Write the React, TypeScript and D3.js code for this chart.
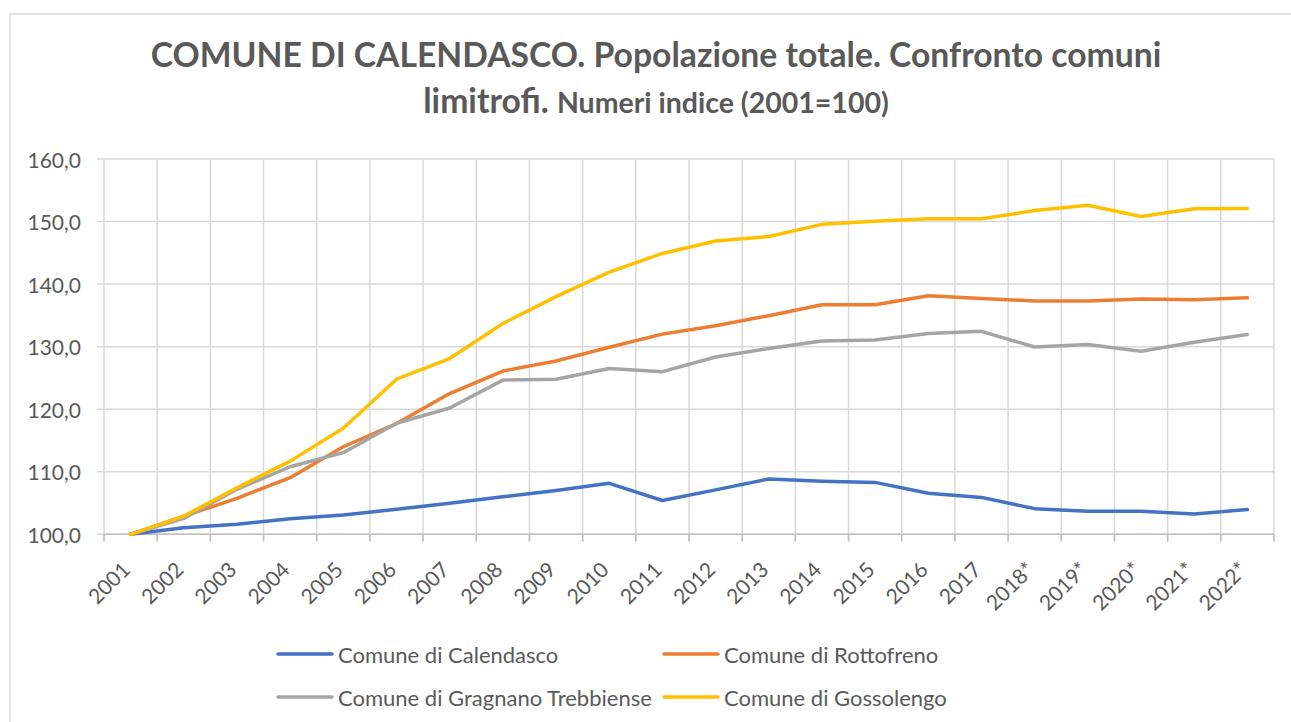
import React from "react";
import * as d3 from "d3";

const years = [
  "2001", "2002", "2003", "2004", "2005", "2006", "2007", "2008", "2009", "2010", "2011",
  "2012", "2013", "2014", "2015", "2016", "2017", "2018*", "2019*", "2020*", "2021*", "2022*",
];

const calendasco = [
  100, 101.05, 101.6, 102.5, 103.1, 104.0, 104.95, 106.0, 107.0, 108.15, 105.4,
  107.1, 108.85, 108.5, 108.3, 106.55, 105.9, 104.1, 103.7, 103.7, 103.25, 103.95,
];
const rottofreno = [
  100, 102.9, 105.75, 109.05, 114.0, 117.7, 122.5, 126.1, 127.7, 129.9, 132.0,
  133.35, 134.95, 136.7, 136.7, 138.15, 137.7, 137.3, 137.3, 137.6, 137.5, 137.8,
];
const gragnano = [
  100, 102.55, 107.2, 110.8, 113.05, 117.75, 120.2, 124.65, 124.8, 126.5, 126.0,
  128.35, 129.7, 130.9, 131.05, 132.1, 132.45, 129.95, 130.35, 129.25, 130.7, 131.95,
];
const gossolengo = [
  100, 102.9, 107.45, 111.7, 116.95, 124.8, 128.1, 133.7, 138.0, 141.9, 144.9,
  146.9, 147.6, 149.55, 150.05, 150.45, 150.45, 151.75, 152.6, 150.8, 152.05, 152.1,
];

const seriesNames = [
  "Comune di Calendasco",
  "Comune di Rottofreno",
  "Comune di Gragnano Trebbiense",
  "Comune di Gossolengo",
];
const seriesColors = ["#4472C4", "#ED7D31", "#A5A5A5", "#FFC000"];
const seriesValues = [calendasco, rottofreno, gragnano, gossolengo];

const FONT = "Lato, 'Open Sans', sans-serif";
const TEXT = "#595959";
const GRID = "#d9d9d9";

export default function App() {
  const x = d3.scaleBand<string>().domain(years).range([104, 1274]).padding(0);
  const y = d3.scaleLinear().domain([100, 160]).range([534.3, 159]);
  const cx = (d: string) => (x(d) as number) + x.bandwidth() / 2;
  const fmt = (v: number) => d3.format(".1f")(v).replace(".", ",");

  const line = d3
    .line<number>()
    .x((_, i) => cx(years[i]))
    .y((v) => y(v));

  const boundaries = years.map((d) => x(d) as number).concat([x.range()[1]]);
  const yTicks = y.ticks(6);

  const legendRows = [654, 697];
  const legendCols = [278, 664];

  return (
    <svg
      width={1291}
      height={722}
      style={{ position: "absolute", left: 0, top: 0, background: "#fff" }}
      fontFamily={FONT}
    >
      <rect x={10} y={14} width={1300} height={730} fill="#fff" stroke={GRID} strokeWidth={1.5} />

      <text x={656} y={67} textAnchor="middle" fill={TEXT} fontWeight="bold" fontSize={33.7}>
        COMUNE DI CALENDASCO. Popolazione totale. Confronto comuni
      </text>
      <text x={656} y={113} textAnchor="middle" fill={TEXT} fontWeight="bold" fontSize={33.7}>
        limitrofi. <tspan fontSize={28.5}>Numeri indice (2001=100)</tspan>
      </text>

      {/* horizontal grid */}
      {yTicks.map((t) => (
        <line key={"h" + t} x1={97} x2={1274} y1={y(t)} y2={y(t)} stroke={GRID} strokeWidth={1.5} />
      ))}
      {/* vertical grid */}
      {boundaries.map((b, i) => (
        <line key={"v" + i} x1={b} x2={b} y1={159} y2={541.5} stroke={GRID} strokeWidth={1.5} />
      ))}
      {/* x axis */}
      <line x1={104} x2={1274} y1={y(100)} y2={y(100)} stroke="#bfbfbf" strokeWidth={1.5} />
      {boundaries.map((b, i) => (
        <line key={"t" + i} x1={b} x2={b} y1={y(100)} y2={541.5} stroke="#bfbfbf" strokeWidth={1.5} />
      ))}

      {yTicks.map((t) => (
        <text key={"yl" + t} x={81} y={y(t)} textAnchor="end" dominantBaseline="central" fill={TEXT} fontSize={21}>
          {fmt(t)}
        </text>
      ))}

      {years.map((d) => (
        <text
          key={"xl" + d}
          transform={`translate(${cx(d) - 5},565) rotate(-45)`}
          textAnchor="end"
          dominantBaseline="central"
          fill={TEXT}
          fontSize={21}
        >
          {d}
        </text>
      ))}

      {seriesValues.map((vals, i) => (
        <path
          key={"s" + i}
          d={line(vals) as string}
          fill="none"
          stroke={seriesColors[i]}
          strokeWidth={3.5}
          strokeLinejoin="round"
          strokeLinecap="round"
        />
      ))}

      {seriesNames.map((name, i) => {
        const lx = legendCols[i % 2];
        const ly = legendRows[Math.floor(i / 2)];
        return (
          <g key={"lg" + i}>
            <line x1={lx} x2={lx + 54} y1={ly} y2={ly} stroke={seriesColors[i]} strokeWidth={3.5} strokeLinecap="round" />
            <text x={lx + 60} y={ly} dominantBaseline="central" fill={TEXT} fontSize={22}>
              {name}
            </text>
          </g>
        );
      })}
    </svg>
  );
}
